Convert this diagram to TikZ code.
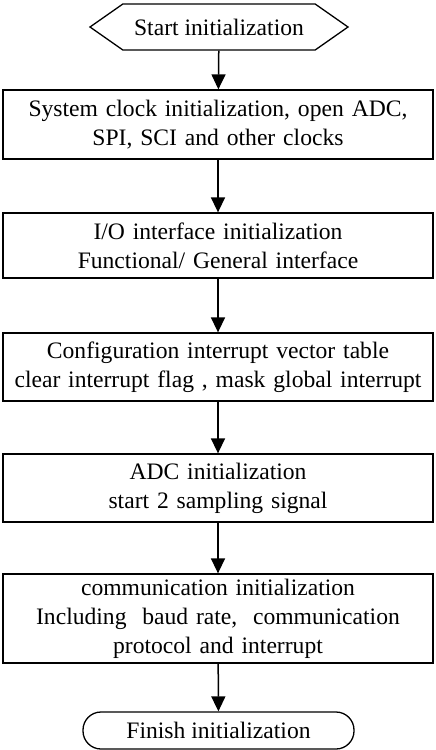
\documentclass[tikz,border=0pt]{standalone}
\usepackage{fontspec}
\setmainfont{Liberation Serif}
\usepackage{tikz}
\usetikzlibrary{arrows.meta, shapes.symbols, positioning}
\definecolor{linecolor}{RGB}{0, 0, 0}

\begin{document}
\begin{tikzpicture}[x=1pt, y=-1pt,
    stepbox/.style={draw=linecolor, line width=1.3pt, rectangle, minimum width=426pt,
        text width=430pt, align=center, inner sep=0pt,
        font=\fontsize{23.6}{29}\selectfont},
    startbox/.style={draw=linecolor, line width=1.3pt, shape=signal, signal to=west and east,
        signal pointer angle=70, minimum width=258pt, minimum height=46pt, inner sep=0pt,
        font=\fontsize{23.6}{29}\selectfont},
    endbox/.style={draw=linecolor, line width=1.3pt, rectangle, rounded corners=18pt,
        minimum width=271pt, minimum height=37pt, inner sep=0pt,
        font=\fontsize{23.6}{29}\selectfont},
    flow/.style={line width=1.5pt, -{Triangle[length=15pt, width=14pt]}}]

    \useasboundingbox (0,0) rectangle (436,750);

    % ==========================================
    % --- Start / Finish ---
    % ==========================================
    \node[startbox] (start) at (219, 27) {Start initialization};
    \node[endbox] (finish) at (218.5, 730.5) {Finish initialization};

    % ==========================================
    % --- Initialization steps ---
    % ==========================================
    \node[stepbox, minimum height=69pt] (clock) at (218, 124.5)
        {System clock initialization, open ADC,\\SPI, SCI and other clocks};
    \node[stepbox, minimum height=65pt] (io) at (218, 245.5)
        {I/O interface initialization\\Functional/ General interface};
    \node[stepbox, minimum height=68pt] (irq) at (218, 367)
        {Configuration interrupt vector table\\clear interrupt flag , mask global interrupt};
    \node[stepbox, minimum height=68pt] (adc) at (218, 488)
        {ADC initialization\\start 2 sampling signal};
    \node[stepbox, minimum height=89pt] (comm) at (218, 618.5)
        {communication initialization\\Including\ \ baud rate,\ \ communication\\protocol and interrupt};

    % Connectors
    \draw[flow] (start) -- (clock);
    \draw[flow] (clock) -- (io);
    \draw[flow] (io) -- (irq);
    \draw[flow] (irq) -- (adc);
    \draw[flow] (adc) -- (comm);
    \draw[flow] (comm) -- (finish);

\end{tikzpicture}
\end{document}
